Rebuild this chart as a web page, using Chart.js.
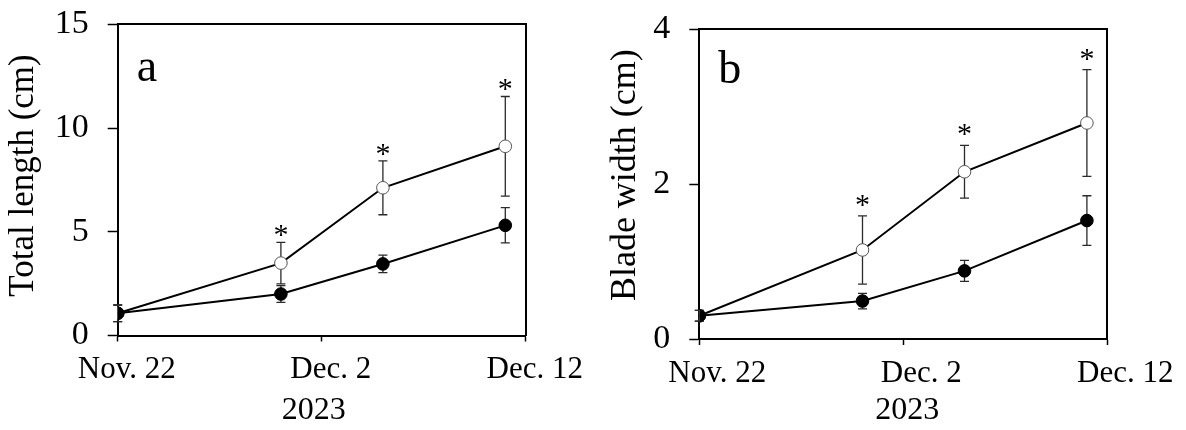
<!DOCTYPE html>
<html>
<head>
<meta charset="utf-8">
<script src="https://cdn.jsdelivr.net/npm/chart.js@4.4.1/dist/chart.umd.min.js"></script>
<style>
  html, body { margin: 0; padding: 0; background: #fff; }
  #wrap { position: relative; width: 1186px; height: 430px; }
  canvas { position: absolute; top: 0; }
</style>
</head>
<body>
<div id="wrap">
  <canvas id="chartA" width="593" height="430" style="left:0"></canvas>
  <canvas id="chartB" width="593" height="430" style="left:593px"></canvas>
</div>
<script>
// sampling days, counted from Nov. 22 2023
const days = [0, 8, 13, 19];
const xTickLabels = ['Nov. 22', 'Dec. 2', 'Dec. 12'];

// a: total length (cm), mean and error
const lengthFilled = [1.07, 2.0, 3.45, 5.31];
const lengthFilledErr = [0.4, 0.4, 0.42, 0.85];
const lengthOpen = [1.07, 3.49, 7.12, 9.12];
const lengthOpenErr = [0.4, 1.0, 1.3, 2.4];
const lengthSig = [false, true, true, true];

// b: blade width (cm)
const widthFilled = [0.30, 0.49, 0.88, 1.53];
const widthFilledErr = [0.07, 0.1, 0.135, 0.32];
const widthOpen = [0.30, 1.15, 2.16, 2.79];
const widthOpenErr = [0.07, 0.44, 0.34, 0.69];
const widthSig = [false, true, true, true];

const FONT = "'Liberation Serif', 'Times New Roman', serif";

const toPoints = (ys) => days.map((d, i) => ({x: d, y: ys[i]}));

// error bars, drawn behind the lines and markers
const errorBars = {
  id: 'errorBars',
  beforeDatasetsDraw(chart) {
    const {ctx, scales: {x, y}} = chart;
    ctx.save();
    ctx.strokeStyle = '#2a2a2a';
    ctx.lineWidth = 1.3;
    chart.data.datasets.forEach(ds => {
      ds.data.forEach((p, i) => {
        const e = ds.errors[i];
        const px = x.getPixelForValue(p.x);
        const top = y.getPixelForValue(p.y + e);
        const bot = y.getPixelForValue(p.y - e);
        ctx.beginPath();
        ctx.moveTo(px, top); ctx.lineTo(px, bot);
        ctx.moveTo(px - 4.5, top); ctx.lineTo(px + 4.5, top);
        ctx.moveTo(px - 4.5, bot); ctx.lineTo(px + 4.5, bot);
        ctx.stroke();
      });
    });
    ctx.restore();
  }
};

// asterisks over the open series + panel letter
const marks = {
  id: 'marks',
  afterDatasetsDraw(chart, args, opts) {
    const {ctx, chartArea, scales: {x, y}} = chart;
    ctx.save();
    ctx.fillStyle = '#000';
    ctx.textAlign = 'center';
    ctx.textBaseline = 'alphabetic';
    ctx.font = '30px ' + FONT;
    chart.data.datasets.forEach(ds => {
      if (!ds.sig) return;
      ds.data.forEach((p, i) => {
        if (!ds.sig[i]) return;
        const px = x.getPixelForValue(p.x);
        const top = y.getPixelForValue(p.y + ds.errors[i]);
        ctx.fillText('*', px, top + opts.starShift);
      });
    });
    ctx.textAlign = 'left';
    ctx.font = '46px ' + FONT;
    ctx.fillText(opts.letter, chartArea.left + 19, chartArea.top + opts.letterY);
    ctx.restore();
  }
};

function makeChart(id, cfg) {
  return new Chart(document.getElementById(id), {
    type: 'line',
    data: {
      datasets: [
        {
          data: toPoints(cfg.filled), errors: cfg.filledErr,
          borderColor: '#000', borderWidth: 2,
          pointRadius: 6.3, pointBackgroundColor: '#000', pointBorderColor: '#000', pointBorderWidth: 1
        },
        {
          data: toPoints(cfg.open), errors: cfg.openErr, sig: cfg.sig,
          borderColor: '#000', borderWidth: 2,
          pointRadius: 6.3, pointBackgroundColor: '#fff', pointBorderColor: '#555', pointBorderWidth: 1
        }
      ]
    },
    options: {
      responsive: false,
      animation: false,
      devicePixelRatio: 1,
      layout: {padding: 0},
      plugins: {
        legend: {display: false},
        tooltip: {enabled: false},
        marks: {letter: cfg.letter, letterY: cfg.letterY, starShift: cfg.starShift}
      },
      scales: {
        x: {
          type: 'linear', min: 0, max: 20,
          afterFit: s => { s.height = cfg.xHeight; s.paddingLeft = 0; s.paddingRight = 0; },
          border: {display: true, color: '#000', width: 2},
          grid: {drawOnChartArea: false, drawTicks: true, tickLength: 6, tickWidth: 1.5, tickColor: '#000'},
          ticks: {
            stepSize: 10, autoSkip: false, maxRotation: 0, padding: 10, labelOffset: cfg.labelOffset,
            color: '#000', font: {family: FONT, size: 31},
            callback: v => xTickLabels[v / 10]
          },
          title: {display: true, text: cfg.xTitle, color: '#000', font: {family: FONT, size: 32}, padding: {top: 0, bottom: 0}}
        },
        y: {
          type: 'linear', min: 0, max: cfg.yMax,
          // fixed axis width, and no extra top/bottom room for the end labels
          afterFit: s => { s.width = cfg.yWidth; s.paddingTop = 0; s.paddingBottom = 0; },
          border: {display: true, color: '#000', width: 2},
          grid: {drawOnChartArea: false, drawTicks: true, tickLength: 10, tickWidth: 1.5, tickColor: '#000'},
          ticks: {stepSize: cfg.yStep, padding: 19, color: '#000', font: {family: FONT, size: 34}},
          title: {display: true, text: cfg.yTitle, color: '#000', font: {family: FONT, size: cfg.yTitleSize}, padding: {top: cfg.yTitlePad, bottom: 0}}
        },
        x2: {
          type: 'linear', position: 'top', display: true,
          afterFit: s => { s.height = cfg.top; },
          border: {display: true, color: '#000', width: 2},
          grid: {drawOnChartArea: false, drawTicks: false},
          ticks: {display: false}
        },
        y2: {
          type: 'linear', position: 'right', display: true,
          afterFit: s => { s.width = cfg.right; },
          border: {display: true, color: '#000', width: 2},
          grid: {drawOnChartArea: false, drawTicks: false},
          ticks: {display: false}
        }
      }
    },
    plugins: [errorBars, marks]
  });
}

makeChart('chartA', {
  filled: lengthFilled, filledErr: lengthFilledErr,
  open: lengthOpen, openErr: lengthOpenErr, sig: lengthSig,
  yMax: 15, yStep: 5, yTitle: '\u00a0Total length (cm)', yTitleSize: 35, yTitlePad: 3,
  xTitle: '2023\u00a0\u00a0',
  letter: 'a', letterY: 57, starShift: 2, labelOffset: 9,
  yWidth: 117.7, top: 24.3, right: 593 - 525.7, xHeight: 430 - 335.5
});

makeChart('chartB', {
  filled: widthFilled, filledErr: widthFilledErr,
  open: widthOpen, openErr: widthOpenErr, sig: widthSig,
  yMax: 4, yStep: 2, yTitle: '\u00a0\u00a0Blade width (cm)', yTitleSize: 36, yTitlePad: 11,
  xTitle: '\u00a02023',
  letter: 'b', letterY: 54, starShift: -2, labelOffset: 18,
  yWidth: 699.3 - 593, top: 29.3, right: 1186 - 1107.3, xHeight: 430 - 339
});
</script>
</body>
</html>
